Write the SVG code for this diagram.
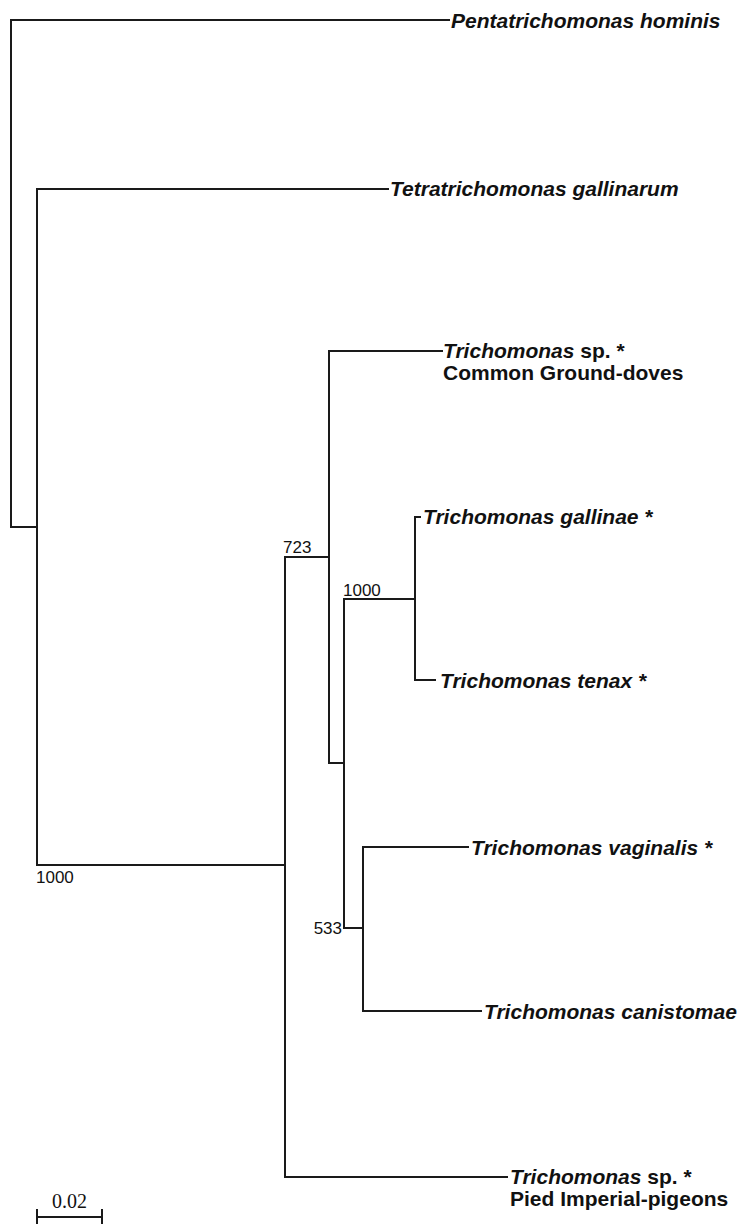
<svg xmlns="http://www.w3.org/2000/svg" width="741" height="1224" viewBox="0 0 741 1224">
<style>
.br{fill:none;stroke:#1a1a1a;stroke-width:2;stroke-linecap:square}
.lab{font-family:"Liberation Sans",Arial,sans-serif;font-weight:bold;font-size:21px;fill:#111}
.it{font-style:italic}
.num{font-family:"Liberation Sans",Arial,sans-serif;font-size:17px;fill:#111}
.sc{font-family:"Liberation Serif","Times New Roman",serif;font-size:20px;fill:#111}
</style>
<rect width="741" height="1224" fill="#fff"/>
<g id="connectors" class="br">
<path d="M11,20 V527"/>
<path d="M11,20 H449"/>
<path d="M11,527 H37"/>
<path d="M37,189 V865"/>
<path d="M37,189 H388"/>
<path d="M37,865 H285"/>
<path d="M285,557 V1177"/>
<path d="M285,557 H329"/>
<path d="M285,1177 H507"/>
<path d="M329,351 V763"/>
<path d="M329,351 H442"/>
<path d="M329,763 H344"/>
<path d="M344,599 V928"/>
<path d="M344,599 H415"/>
<path d="M344,928 H363"/>
<path d="M415,517 V680"/>
<path d="M415,517 H420"/>
<path d="M415,680 H435"/>
<path d="M363,847 V1011"/>
<path d="M363,847 H468"/>
<path d="M363,1011 H481"/>
</g>
<g id="node-penta"><text class="lab it" x="451" y="28">Pentatrichomonas hominis</text></g>
<g id="node-tetra"><text class="lab it" x="390" y="196">Tetratrichomonas gallinarum</text></g>
<g id="node-sp-ground"><text class="lab" x="443" y="358"><tspan class="it">Trichomonas</tspan> sp. *</text><text class="lab" x="443" y="380">Common Ground-doves</text></g>
<g id="node-gallinae"><text class="lab it" x="423" y="524">Trichomonas gallinae *</text></g>
<g id="node-tenax"><text class="lab it" x="440" y="688">Trichomonas tenax *</text></g>
<g id="node-vaginalis"><text class="lab it" x="471" y="855">Trichomonas vaginalis *</text></g>
<g id="node-canistomae"><text class="lab it" x="484" y="1019">Trichomonas canistomae</text></g>
<g id="node-sp-pied"><text class="lab" x="510" y="1184"><tspan class="it">Trichomonas</tspan> sp. *</text><text class="lab" x="510" y="1206">Pied Imperial-pigeons</text></g>
<g id="bootstrap">
<text class="num" x="36" y="883">1000</text>
<text class="num" x="283" y="553">723</text>
<text class="num" x="343" y="596">1000</text>
<text class="num" x="342" y="934" text-anchor="end">533</text>
</g>
<g id="scale-bar">
<path class="br" d="M37,1217 H102 M37,1210 V1224 M102,1210 V1224"/>
<text class="sc" x="69.5" y="1208" text-anchor="middle">0.02</text>
</g>
</svg>
